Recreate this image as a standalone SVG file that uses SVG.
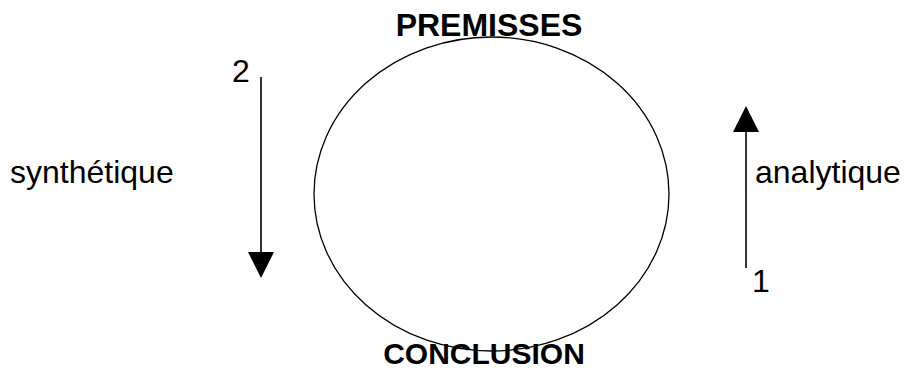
<svg xmlns="http://www.w3.org/2000/svg" width="904" height="371" viewBox="0 0 904 371">
<style>
.t{font-family:"Liberation Sans",Arial,sans-serif;font-size:32px;fill:#000}
.b{font-weight:bold}
.ln{stroke:#000;stroke-width:1.6;fill:none}
</style>
<rect width="904" height="371" fill="#fff"/>
<g id="cycle"><ellipse cx="491.5" cy="194" rx="177.5" ry="157" fill="none" stroke="#000" stroke-width="1.3"/></g>
<g id="premisses"><text class="t b" x="489" y="36" text-anchor="middle">PREMISSES</text></g>
<g id="conclusion"><text class="t b" x="484" y="364" text-anchor="middle" style="font-size:30px">CONCLUSION</text></g>
<g id="synthetique"><text class="t" x="10" y="183">synthétique</text></g>
<g id="analytique"><text class="t" x="755" y="183">analytique</text></g>
<g id="n2"><text class="t" x="232" y="82">2</text></g>
<g id="n1"><text class="t" x="752" y="292">1</text></g>
<g id="connectors">
<line class="ln" x1="261" y1="77" x2="261" y2="254"/>
<polygon points="248,252 274,252 261,278" fill="#000"/>
<line class="ln" x1="746" y1="268" x2="746" y2="130"/>
<polygon points="733,132 759,132 746,106" fill="#000"/>
</g>
</svg>
